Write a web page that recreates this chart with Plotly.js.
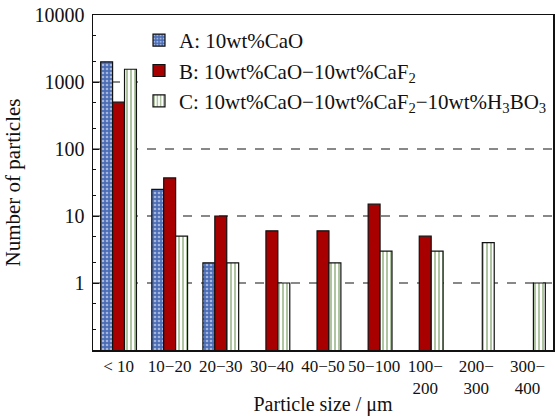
<!DOCTYPE html>
<html>
<head>
<meta charset="utf-8">
<script src="https://cdn.plot.ly/plotly-3.0.1.min.js"></script>
<style>html,body{margin:0;padding:0;background:#fff;}#chart{width:555px;height:418px;}</style>
</head>
<body>
<div id="chart"></div>
<script>
const categories = ["< 10", "10\u221220", "20\u221230", "30\u221240", "40\u221250", "50\u2212100", "100\u2212<br>200", "200\u2212<br>300", "300\u2212<br>400"];
const seriesA = [2000, 25, 2, null, null, null, null, null, null];
const seriesB = [500, 37, 10, 6, 6, 15, 5, null, null];
const seriesC = [1550, 5, 2, 1, 2, 3, 3, 4, 1];
const names = ["A: 10wt%CaO", "B: 10wt%CaO\u221210wt%CaF<sub>2</sub>", "C: 10wt%CaO\u221210wt%CaF<sub>2</sub>\u221210wt%H<sub>3</sub>BO<sub>3</sub>"];
const yTickVals = [1, 10, 100, 1000, 10000];
const yTickText = ["1", "10", "100", "1000", "10000"];

const font = "Liberation Serif";
const line = {color: "#111", width: 1.2};
const traces = [
  {type: "bar", x: categories, y: seriesA, name: names[0],
   marker: {color: "#4a6db5", line: line,
     pattern: {shape: ".", fgcolor: "#ffffff", fillmode: "overlay", size: 4, solidity: 0.35}}},
  {type: "bar", x: categories, y: seriesB, name: names[1],
   marker: {color: "#a80000", line: line}},
  {type: "bar", x: categories, y: seriesC, name: names[2],
   marker: {color: "#ffffff", line: line,
     pattern: {shape: "|", fgcolor: "#5f8c45", fillmode: "overlay", size: 4, solidity: 0.5}}}
];
const layout = {
  width: 555, height: 418,
  margin: {l: 93, r: 2, t: 15, b: 68},
  paper_bgcolor: "#fff", plot_bgcolor: "#fff",
  barmode: "group", bargap: 0.3, bargroupgap: 0,
  font: {family: font, color: "#111", size: 18},
  showlegend: true,
  legend: {x: 0.1, y: 0.985, xanchor: "left", yanchor: "top", bgcolor: "#fff",
    font: {family: font, size: 21, color: "#111"}, itemwidth: 30, tracegroupgap: 0},
  xaxis: {type: "category", showline: true, mirror: true, linecolor: "#111", linewidth: 1.5,
    ticks: "", tickfont: {family: font, size: 17, color: "#111"},
    title: {text: "Particle size / \u03bcm", font: {family: font, size: 20, color: "#111"}, standoff: 0},
    showgrid: false, zeroline: false},
  yaxis: {type: "log", range: [-1, 4], showline: true, mirror: true, linecolor: "#111", linewidth: 1.5,
    tickvals: yTickVals, ticktext: yTickText, ticks: "inside", ticklen: 6, tickcolor: "#111",
    ticklabelstandoff: 3,
    tickfont: {family: font, size: 20, color: "#111"},
    minor: {ticks: "inside", ticklen: 3, tickcolor: "#111", showgrid: false},
    showgrid: true, gridcolor: "#888", griddash: "dash", gridwidth: 1.2,
    title: {text: "Number of particles", font: {family: font, size: 21, color: "#111"}, standoff: 8},
    zeroline: false}
};
Plotly.newPlot("chart", traces, layout, {displayModeBar: false, staticPlot: true});
</script>
</body>
</html>
